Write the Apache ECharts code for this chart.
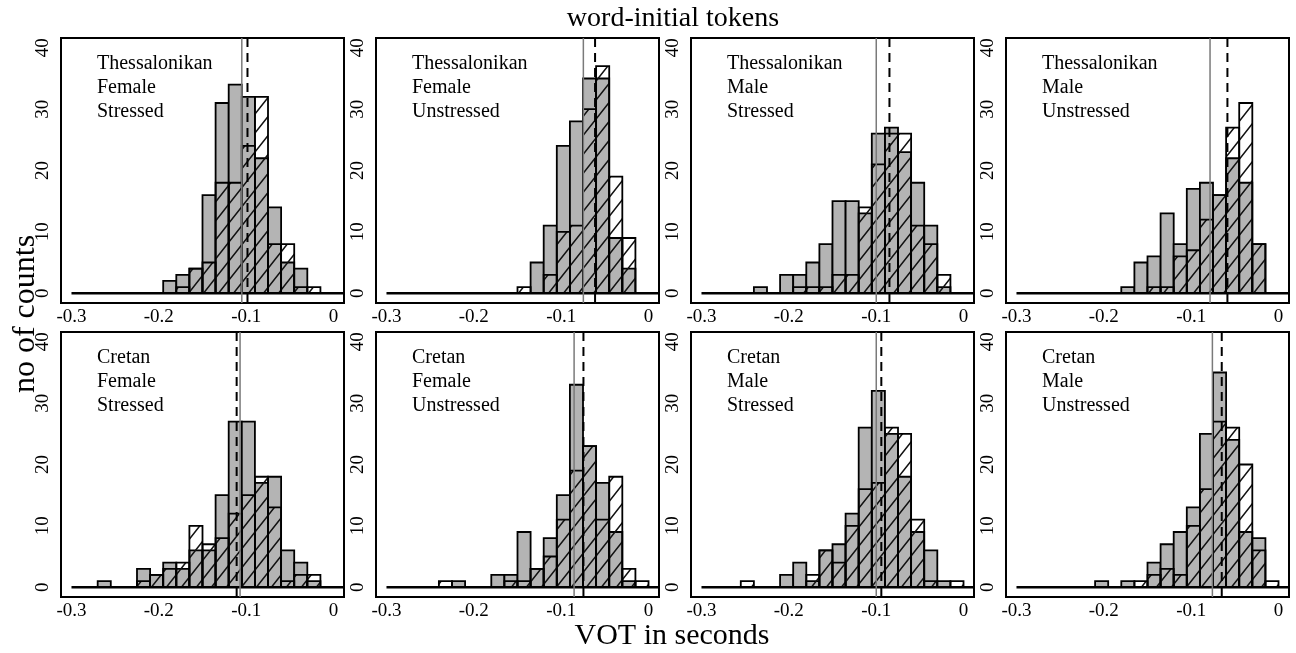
<!DOCTYPE html>
<html>
<head>
<meta charset="utf-8">
<script src="https://cdn.jsdelivr.net/npm/echarts@6/dist/echarts.min.js"></script>
<style>
  html, body { margin: 0; padding: 0; background: #fff; }
  #chart { width: 1296px; height: 653px; }
</style>
</head>
<body>
<div id="chart"></div>
<script>
// VOT histograms of word-initial stops: 20 bins of 15 ms from -0.300 s to 0.000 s.
const BIN_START = -0.3;
const BIN_WIDTH = 0.015;
const xTicks = [-0.3, -0.2, -0.1, 0];
const yTicks = [0, 10, 20, 30, 40];

const panelLabels = [
  ['Thessalonikan', 'Female', 'Stressed'],
  ['Thessalonikan', 'Female', 'Unstressed'],
  ['Thessalonikan', 'Male', 'Stressed'],
  ['Thessalonikan', 'Male', 'Unstressed'],
  ['Cretan', 'Female', 'Stressed'],
  ['Cretan', 'Female', 'Unstressed'],
  ['Cretan', 'Male', 'Stressed'],
  ['Cretan', 'Male', 'Unstressed']
];

// Counts per bin (index 0 = [-0.300, -0.285), index 19 = [-0.015, 0.000)).
// "grey" = filled histogram, "hatch" = hatched histogram drawn over it.
const thessFemStressedGrey    = [0,0,0,0,0,0,0,2,3,4,16,31,34,32,22,14,5,4,0,0];
const thessFemStressedHatch   = [0,0,0,0,0,0,0,0,1,4,5,18,18,24,32,8,8,1,1,0];
const thessFemUnstressedGrey  = [0,0,0,0,0,0,0,0,0,0,0,5,11,24,28,35,35,9,4,0];
const thessFemUnstressedHatch = [0,0,0,0,0,0,0,0,0,0,1,0,3,10,11,30,37,19,9,0];
const thessMalStressedGrey    = [0,0,0,0,1,0,3,3,5,8,15,15,13,26,27,23,18,11,1,0];
const thessMalStressedHatch   = [0,0,0,0,0,0,0,1,1,1,3,3,14,21,26,26,11,8,3,0];
const thessMalUnstressedGrey  = [0,0,0,0,0,0,0,0,1,5,6,13,8,17,18,16,22,18,8,0];
const thessMalUnstressedHatch = [0,0,0,0,0,0,0,0,0,0,1,1,6,7,12,16,27,31,8,0];
const cretFemStressedGrey     = [0,0,1,0,0,3,2,4,3,6,6,15,27,27,17,18,6,4,1,0];
const cretFemStressedHatch    = [0,0,0,0,0,1,2,3,4,10,7,8,12,15,18,13,1,2,2,0];
const cretFemUnstressedGrey   = [0,0,0,0,0,1,0,0,2,2,9,3,8,15,33,23,17,9,1,0];
const cretFemUnstressedHatch  = [0,0,0,0,1,0,0,0,0,1,1,3,5,11,19,23,11,18,3,1];
const cretMalStressedGrey     = [0,0,0,0,0,0,2,4,1,6,7,12,26,32,25,18,9,6,1,0];
const cretMalStressedHatch    = [0,0,0,1,0,0,0,0,2,6,4,10,16,17,26,25,11,1,0,1];
const cretMalUnstressedGrey   = [0,0,0,0,0,0,1,0,1,0,4,7,9,13,25,35,24,9,8,0];
const cretMalUnstressedHatch  = [0,0,0,0,0,0,0,0,0,1,2,3,2,10,16,27,26,20,6,1];

// Group means (s): solid grey line for the filled histogram, dashed for the hatched one.
const greyMeans  = [-0.105, -0.0746, -0.0999, -0.0784, -0.107, -0.0852, -0.0999, -0.0757];
const hatchMeans = [-0.0985, -0.0612, -0.0848, -0.0585, -0.1109, -0.0745, -0.0941, -0.065];

const greyCounts = [thessFemStressedGrey, thessFemUnstressedGrey, thessMalStressedGrey, thessMalUnstressedGrey,
                    cretFemStressedGrey, cretFemUnstressedGrey, cretMalStressedGrey, cretMalUnstressedGrey];
const hatchCounts = [thessFemStressedHatch, thessFemUnstressedHatch, thessMalStressedHatch, thessMalUnstressedHatch,
                     cretFemStressedHatch, cretFemUnstressedHatch, cretMalStressedHatch, cretMalUnstressedHatch];

// Plot region layout (pixels)
const COL_LEFT = [61, 376, 691, 1006];
const ROW_TOP = [38, 332];
const PANEL_W = 283;
const PANEL_H = 265;
const X_MIN = -0.312, X_MAX = 0.012;
const Y_MIN = -1.6, Y_MAX = 41.6;
const SERIF = 'Liberation Serif';
const GREY_FILL = '#b4b4b4';

// Diagonal hatch tile used as a repeating fill pattern
function makeHatchTile() {
  const w = 15, h = 19;
  const c = document.createElement('canvas');
  c.width = w; c.height = h;
  const g = c.getContext('2d');
  g.strokeStyle = '#111';
  g.lineWidth = 1.5;
  g.beginPath();
  for (let k = -1; k <= 1; k++) {
    for (let l = -1; l <= 1; l++) {
      g.moveTo(k * w, h + l * h);
      g.lineTo(k * w + w, l * h);
    }
  }
  g.stroke();
  return c;
}
const hatchPattern = { image: makeHatchTile(), repeat: 'repeat' };

function binsToData(counts) {
  const out = [];
  counts.forEach((c, i) => {
    if (c > 0) {
      const x0 = BIN_START + i * BIN_WIDTH;
      out.push([x0, x0 + BIN_WIDTH, c]);
    }
  });
  return out;
}

function barRenderer(fill) {
  return function (params, api) {
    const p0 = api.coord([api.value(0), api.value(2)]);
    const p1 = api.coord([api.value(1), 0]);
    return {
      type: 'rect',
      shape: { x: p0[0], y: p0[1], width: p1[0] - p0[0], height: p1[1] - p0[1] },
      style: { fill: fill, stroke: '#000', lineWidth: 1.8 }
    };
  };
}

function vLineRenderer(color, width, dash) {
  return function (params, api) {
    const cs = params.coordSys;
    const p = api.coord([api.value(0), 0]);
    return {
      type: 'line',
      shape: { x1: p[0], y1: cs.y, x2: p[0], y2: cs.y + cs.height },
      style: { stroke: color, lineWidth: width, lineDash: dash }
    };
  };
}

function baselineRenderer(params, api) {
  const cs = params.coordSys;
  const p = api.coord([api.value(0), 0]);
  return {
    type: 'line',
    shape: { x1: p[0], y1: p[1], x2: cs.x + cs.width, y2: p[1] },
    style: { stroke: '#000', lineWidth: 2.5 }
  };
}

const grids = [], xAxes = [], yAxes = [], series = [], graphics = [];

for (let p = 0; p < 8; p++) {
  const col = p % 4, row = Math.floor(p / 4);
  const left = COL_LEFT[col], top = ROW_TOP[row];
  grids.push({
    left: left, top: top, width: PANEL_W, height: PANEL_H,
    show: true, borderColor: '#000', borderWidth: 2, backgroundColor: 'transparent'
  });
  xAxes.push({
    type: 'value', gridIndex: p, min: X_MIN, max: X_MAX,
    axisLine: { show: false }, axisTick: { show: false }, splitLine: { show: false },
    axisLabel: {
      customValues: xTicks, margin: 5,
      fontFamily: SERIF, fontSize: 19, color: '#000',
      formatter: v => (Math.abs(v) < 1e-9 ? '0' : String(+v.toFixed(1)))
    }
  });
  yAxes.push({
    type: 'value', gridIndex: p, min: Y_MIN, max: Y_MAX,
    axisLine: { show: false }, axisTick: { show: false }, splitLine: { show: false },
    axisLabel: {
      customValues: yTicks, rotate: 90, margin: 8,
      fontFamily: SERIF, fontSize: 19, color: '#000'
    }
  });

  series.push({
    type: 'custom', xAxisIndex: p, yAxisIndex: p, z: 2,
    renderItem: barRenderer(GREY_FILL),
    encode: { x: [0, 1], y: 2 },
    data: binsToData(greyCounts[p])
  });
  series.push({
    type: 'custom', xAxisIndex: p, yAxisIndex: p, z: 3,
    renderItem: barRenderer(hatchPattern),
    encode: { x: [0, 1], y: 2 },
    data: binsToData(hatchCounts[p])
  });
  series.push({
    type: 'custom', xAxisIndex: p, yAxisIndex: p, z: 4,
    renderItem: baselineRenderer,
    encode: { x: 0 },
    data: [[BIN_START]]
  });
  series.push({
    type: 'custom', xAxisIndex: p, yAxisIndex: p, z: 5,
    renderItem: vLineRenderer('#7a7a7a', 1.5, null),
    encode: { x: 0 },
    data: [[greyMeans[p]]]
  });
  series.push({
    type: 'custom', xAxisIndex: p, yAxisIndex: p, z: 6,
    renderItem: vLineRenderer('#000', 2, [9, 6]),
    encode: { x: 0 },
    data: [[hatchMeans[p]]]
  });

  graphics.push({
    type: 'text', left: left + 36, top: top + 14, z: 10,
    style: {
      text: panelLabels[p].join('\n'),
      font: '20px "' + SERIF + '"', fill: '#000', lineHeight: 24
    }
  });
}

graphics.push({
  type: 'text', x: 673, y: 19, z: 10,
  style: { text: 'word-initial tokens', font: '28px "' + SERIF + '"', fill: '#000',
           textAlign: 'center', textVerticalAlign: 'middle' }
});
graphics.push({
  type: 'text', x: 672, y: 636, z: 10,
  style: { text: 'VOT in seconds', font: '30px "' + SERIF + '"', fill: '#000',
           textAlign: 'center', textVerticalAlign: 'middle' }
});
graphics.push({
  type: 'text', x: 26, y: 314, rotation: Math.PI / 2, z: 10,
  style: { text: 'no of counts', font: '32px "' + SERIF + '"', fill: '#000',
           textAlign: 'center', textVerticalAlign: 'middle' }
});

const chart = echarts.init(document.getElementById('chart'), null, { renderer: 'canvas' });
chart.setOption({
  animation: false,
  backgroundColor: '#fff',
  grid: grids,
  xAxis: xAxes,
  yAxis: yAxes,
  series: series,
  graphic: graphics
});
</script>
</body>
</html>
